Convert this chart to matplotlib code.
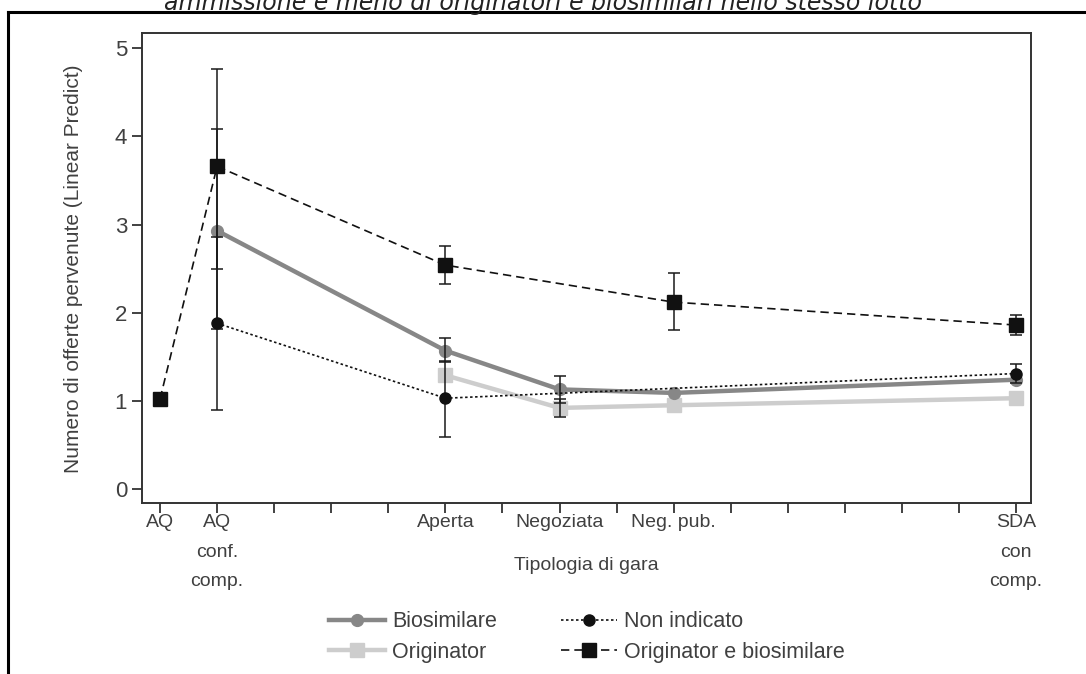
import numpy as np
import matplotlib.pyplot as plt
from matplotlib.lines import Line2D

plt.rcParams['font.family'] = ['Liberation Sans', 'DejaVu Sans']

# categorie sull'asse x (posizioni 1..16, solo alcune etichettate)
tick_pos = list(range(1, 17))
tick_lab = {1: 'AQ', 2: 'AQ\nconf.\ncomp.', 6: 'Aperta', 8: 'Negoziata',
            10: 'Neg. pub.', 16: 'SDA\ncon\ncomp.'}

# Biosimilare
bio_x = [2, 6, 8, 10, 16]
bio_y = [2.93, 1.57, 1.13, 1.09, 1.24]
bio_lo = [1.82, 1.44, 0.98, np.nan, np.nan]
bio_hi = [4.08, 1.71, 1.28, np.nan, np.nan]

# Originator
ori_x = [6, 8, 10, 16]
ori_y = [1.29, 0.92, 0.95, 1.03]
ori_lo = [np.nan, 0.82, np.nan, np.nan]
ori_hi = [np.nan, 1.02, np.nan, np.nan]

# Non indicato
non_x = [2, 6, 16]
non_y = [1.88, 1.03, 1.31]
non_lo = [0.90, 0.59, 1.20]
non_hi = [2.86, 1.45, 1.42]

# Originator e biosimilare
oeb_x = [1, 2, 6, 10, 16]
oeb_y = [1.02, 3.66, 2.54, 2.12, 1.86]
oeb_lo = [np.nan, 2.50, 2.33, 1.80, 1.75]
oeb_hi = [np.nan, 4.77, 2.76, 2.45, 1.97]

fig = plt.figure(figsize=(10.86, 6.74), dpi=100)
ax = fig.add_axes([0.1312, 0.2533, 0.8186, 0.6973])

txt = '#404040'


def ci(x, y, lo, hi):
    y = np.array(y)
    lo = np.array(lo)
    hi = np.array(hi)
    ok = ~np.isnan(lo)
    if ok.any():
        ax.errorbar(np.array(x)[ok], y[ok], yerr=[y[ok] - lo[ok], hi[ok] - y[ok]],
                    fmt='none', ecolor='#1a1a1a', elinewidth=1.1, capsize=4,
                    capthick=1.1, zorder=4.5)


ci(bio_x, bio_y, bio_lo, bio_hi)
ci(ori_x, ori_y, ori_lo, ori_hi)
ci(non_x, non_y, non_lo, non_hi)
ci(oeb_x, oeb_y, oeb_lo, oeb_hi)

ax.plot(ori_x, ori_y, color='#cdcdcd', lw=3.2, marker='s', ms=9.5,
        label='Originator', zorder=3)
ax.plot(bio_x, bio_y, color='#878787', lw=3.2, marker='o', ms=8.5,
        label='Biosimilare', zorder=4)
ax.plot(non_x, non_y, color='#111111', lw=1.2, ls=(0, (1.5, 1.5)), marker='o',
        ms=8, label='Non indicato', zorder=5)
ax.plot(oeb_x, oeb_y, color='#111111', lw=1.2, ls=(0, (5, 3)), marker='s',
        ms=10, label='Originator e biosimilare', zorder=6)

ax.set_xlim(0.693, 16.27)
ax.set_ylim(-0.162, 5.17)
ax.set_yticks(range(6))
ax.set_yticklabels([str(i) for i in range(6)], fontsize=16, color=txt)
ax.set_xticks(tick_pos)
ax.set_xticklabels([tick_lab.get(p, '') for p in tick_pos], fontsize=14,
                   color=txt, linespacing=1.95)
ax.tick_params(length=7, width=1.3, color='#333333', pad=4)
ax.tick_params(axis='x', pad=1)
for s in ax.spines.values():
    s.set_color('#333333')
    s.set_linewidth(1.4)

ax.set_ylabel('Numero di offerte pervenute (Linear Predict)', fontsize=15,
              color=txt, labelpad=23)
fig.text(0.540, 1 - 565 / 674, 'Tipologia di gara', ha='center', va='center',
         fontsize=14, color=txt)

# titolo tagliato in alto
fig.text(0.5, 1 - 10 / 674, 'ammissione e meno di originatori e biosimilari nello stesso lotto',
         ha='center', va='baseline', fontsize=17, style='italic', color='#222222',
         family=['DejaVu Sans'])

# cornice
fig.add_artist(Line2D([8 / 1086, 1], [1 - 12 / 674, 1 - 12 / 674], color='black', lw=2.2))
fig.add_artist(Line2D([8 / 1086, 8 / 1086], [0, 1 - 12 / 674], color='black', lw=2.2))

h, l = ax.get_legend_handles_labels()
order = [1, 0, 2, 3]
leg = fig.legend([h[i] for i in order], [l[i] for i in order], ncol=2,
                 loc='center left', bbox_to_anchor=(310 / 1086, 1 - 637 / 674),
                 frameon=False, fontsize=15.5, handlelength=2.6, columnspacing=3.0,
                 labelspacing=0.45, handletextpad=0.3, labelcolor=txt)

fig.savefig('out.png', dpi=100)
